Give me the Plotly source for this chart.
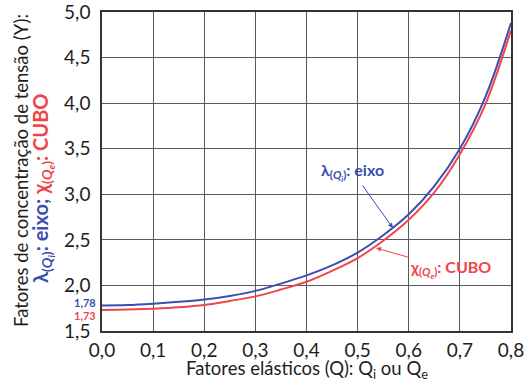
import plotly.graph_objects as go

q = [0.00, 0.05, 0.10, 0.15, 0.20, 0.25, 0.30, 0.35, 0.40, 0.45, 0.50, 0.55, 0.60, 0.65, 0.70, 0.75, 0.80]
lam_eixo = [1.78, 1.785, 1.80, 1.82, 1.845, 1.885, 1.94, 2.02, 2.11, 2.22, 2.36, 2.55, 2.78, 3.09, 3.50, 4.07, 4.88]
chi_cubo = [1.73, 1.735, 1.745, 1.76, 1.785, 1.83, 1.88, 1.955, 2.04, 2.16, 2.30, 2.49, 2.72, 3.02, 3.44, 3.99, 4.80]

x_ticks = [0.0, 0.1, 0.2, 0.3, 0.4, 0.5, 0.6, 0.7, 0.8]
y_ticks = [1.5, 2.0, 2.5, 3.0, 3.5, 4.0, 4.5, 5.0]

BLUE = "#3a4fb0"
RED = "#f0454b"
INK = "#1e1e1e"
FONT = "Lato"

fig = go.Figure()
fig.add_trace(go.Scatter(x=q, y=lam_eixo, mode="lines",
                         line=dict(color=BLUE, width=2, shape="spline"), showlegend=False))
fig.add_trace(go.Scatter(x=q, y=chi_cubo, mode="lines",
                         line=dict(color=RED, width=2, shape="spline"), showlegend=False))

axis_common = dict(showgrid=True, gridcolor="#5a5a5a", gridwidth=1, showline=True, linecolor="#333333",
                   linewidth=1.5, mirror=True, ticks="", zeroline=False, automargin=False,
                   ticklabeloverflow="allow",
                   tickfont=dict(family=FONT, size=19, color=INK), tickformat=".1f")

fig.update_xaxes(range=[0, 0.8], tickvals=x_ticks, ticklabelstandoff=1, **axis_common)
fig.update_yaxes(range=[1.5, 5.0], tickvals=y_ticks, ticklabelstandoff=6, **axis_common)

sub_i = "λ<sub>(<i>Q<sub>i</sub></i>)</sub>"
sub_e = "χ<sub>(<i>Q<sub>e</sub></i>)</sub>"

annotations = [
    dict(text="Fatores de concentração de tensão (Y):", xref="paper", yref="paper", x=0, y=0,
         xshift=-81, yshift=160, xanchor="center", yanchor="middle", textangle=-90, showarrow=False,
         font=dict(family=FONT, size=18.5, color=INK)),
    dict(text="<b><span style='color:%s'>%s: eixo;</span> <span style='color:%s'>%s: CUBO</span></b>"
              % (BLUE, sub_i, RED, sub_e),
         xref="paper", yref="paper", x=0, y=0, xshift=-60, yshift=142, xanchor="center",
         yanchor="middle", textangle=-90, showarrow=False, font=dict(family=FONT, size=20, color=INK)),
    dict(text="Fatores elásticos (Q): Q<sub>i</sub> ou Q<sub>e</sub>", xref="paper", yref="paper",
         x=0.5, y=0, yshift=-38, xanchor="center", yanchor="middle", showarrow=False,
         font=dict(family=FONT, size=18.5, color=INK)),
    dict(text="<b>1,78</b>", xref="paper", yref="y", x=0, y=1.81, xanchor="right", yanchor="middle",
         xshift=-4, showarrow=False, font=dict(family=FONT, size=11, color=BLUE)),
    dict(text="<b>1,73</b>", xref="paper", yref="y", x=0, y=1.67, xanchor="right", yanchor="middle",
         xshift=-4, showarrow=False, font=dict(family=FONT, size=11, color=RED)),
    dict(text="<b>" + sub_i + ": eixo</b>", x=0.569, y=2.63, ax=-40, ay=-56,
         xref="x", yref="y", showarrow=True, arrowhead=2, arrowsize=1,
         arrowwidth=1, arrowcolor=BLUE, standoff=0, xanchor="center", yanchor="middle",
         font=dict(family=FONT, size=16, color=BLUE)),
    dict(text="<b>" + sub_e + ": CUBO</b>", x=0.536, y=2.41, ax=74, ay=21,
         xref="x", yref="y", showarrow=True, arrowhead=2, arrowsize=1,
         arrowwidth=1, arrowcolor=RED, standoff=0, xanchor="center", yanchor="middle",
         font=dict(family=FONT, size=16, color=RED)),
]

fig.update_layout(width=532, height=380, margin=dict(l=102, r=21, t=12, b=49, autoexpand=False),
                  plot_bgcolor="white", paper_bgcolor="white", separators=",.",
                  annotations=annotations, font=dict(family=FONT))

fig.write_html("out.html", config={"displayModeBar": False},
               post_script="document.body.style.margin='0';")
